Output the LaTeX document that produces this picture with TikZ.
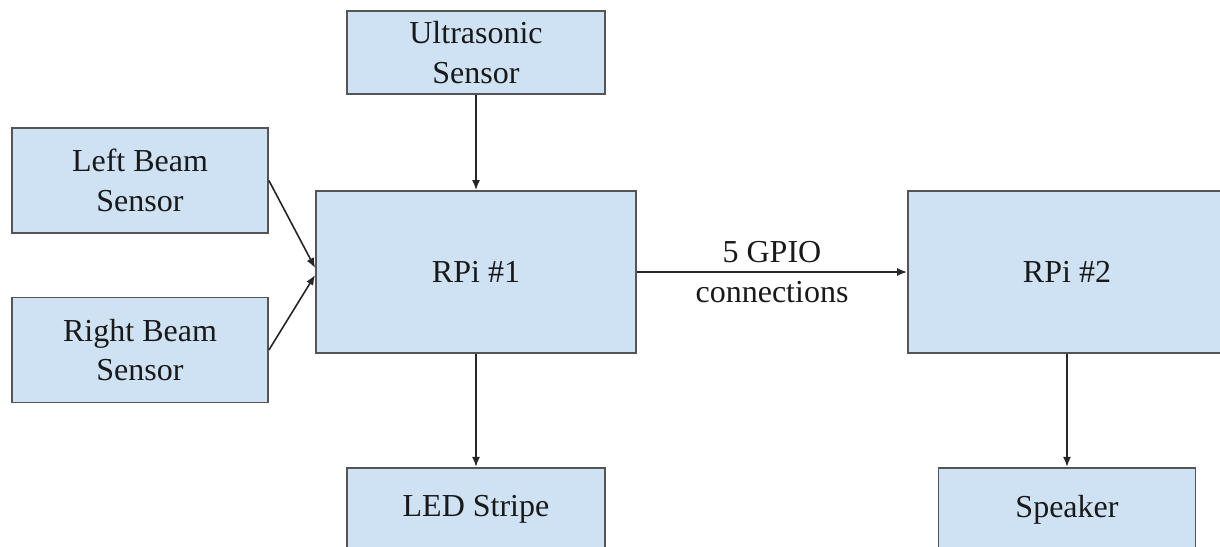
\documentclass[tikz,border=0pt]{standalone}
\usepackage{fontspec}
\setmainfont{Liberation Serif}
\usetikzlibrary{arrows.meta,positioning,calc}
\definecolor{boxfill}{HTML}{CFE2F3}
\definecolor{edge}{HTML}{555555}
\tikzset{
  block/.style={draw=edge, fill=boxfill, line width=1.8pt, align=center, inner sep=0pt,
    font=\fontsize{32}{39.5}\selectfont, text=black!90},
  sensor/.style={block, minimum width=256pt, minimum height=105pt},
  rpi/.style={block, minimum width=320pt, minimum height=162pt},
  endbox/.style={block, minimum width=258pt, minimum height=84pt},
  flow/.style={-{Latex[length=10pt, width=8pt]}, line width=1.6pt, draw=black!85},
  tag/.style={align=center, font=\fontsize{32}{39.5}\selectfont, text=black!90},
}

\begin{document}
\begin{tikzpicture}[x=1pt, y=-1pt]
  \useasboundingbox (0,0) rectangle (1220,546);
  \node[rpi] (r1) at (476,272) {RPi \#1};
  \node[rpi, minimum width=318pt] (r2) at (1067,272) {RPi \#2};
  \node[endbox, above=95pt of r1, minimum height=83pt] (us) {Ultrasonic\\Sensor};
  \node[sensor] (lb) at (140,180.5) {Left Beam\\Sensor};
  \node[sensor] (rb) at (140,350) {Right Beam\\Sensor};
  \node[endbox, below=113pt of r1] (led) {LED Stripe};
  \node[endbox, below=113pt of r2, minimum width=257pt] (sp) {Speaker};
  \draw[flow] (us) -- (r1);
  \draw[flow] (lb.east) -- ([yshift=4pt]r1.west);
  \draw[flow] (rb.east) -- ([yshift=-3pt]r1.west);
  \draw[flow] (r1) -- (led);
  \draw[flow] (r1) -- node[tag] {5 GPIO\\connections} (r2);
  \draw[flow] (r2) -- (sp);
\end{tikzpicture}
\end{document}
